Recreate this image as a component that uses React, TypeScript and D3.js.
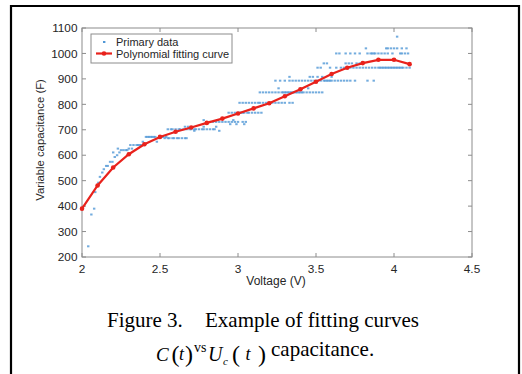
import React from "react";
import * as d3 from "d3";

const xTicks = [2, 2.5, 3, 3.5, 4, 4.5];
const yTicks = [200, 300, 400, 500, 600, 700, 800, 900, 1000, 1100];

// Polynomial fitting curve
const fitV = [2.0, 2.1, 2.2, 2.3, 2.4, 2.5, 2.6, 2.7, 2.8, 2.9, 3.0, 3.1, 3.2, 3.3, 3.4, 3.5, 3.6, 3.7, 3.8, 3.9, 4.0, 4.1];
const fitC = [390, 481, 552, 604, 643, 672, 692, 709, 727, 744, 764, 784, 804, 832, 859, 889, 919, 944, 962, 975, 975, 958];

// Primary data, grouped by (quantized) capacitance level
const dataLevels = [
  242, 367, 390, 455, 492, 515, 532, 545, 558, 574, 593, 600, 611, 620, 626, 640, 653,
  667, 672, 702, 712, 696, 731, 722, 738, 767, 806, 847, 863, 893, 908, 944, 961, 1000, 1020, 1066,
];
const dataVolts = [
  [2.04],
  [2.06],
  [2.078],
  [2.085],
  [2.105],
  [2.115],
  [2.13],
  [2.14],
  [2.155, 2.165],
  [2.18, 2.195],
  [2.21],
  [2.225],
  [2.2, 2.24],
  [2.25, 2.265, 2.28, 2.29],
  [2.23, 2.3, 2.32],
  [2.31, 2.33, 2.35, 2.36, 2.37, 2.38, 2.4],
  [2.39, 2.48],
  [2.49, 2.53, 2.55, 2.56, 2.58, 2.59, 2.61, 2.62, 2.64, 2.66, 2.67],
  [2.41, 2.42, 2.43, 2.44, 2.45, 2.46, 2.47, 2.5, 2.51, 2.52, 2.54],
  [2.55, 2.57, 2.58, 2.6, 2.62, 2.63, 2.65, 2.67, 2.69, 2.7, 2.72, 2.73, 2.75, 2.77, 2.78, 2.8, 2.82, 2.84, 2.85],
  [2.66, 2.68, 2.78, 2.86],
  [2.72, 2.88],
  [2.82, 2.84, 2.86, 2.88, 2.9, 2.92, 2.94, 2.96, 2.98, 3.0, 3.03, 3.05],
  [2.95, 2.99, 3.04],
  [2.78, 2.87, 2.97],
  [2.94, 2.96, 2.98, 3.0, 3.01, 3.02, 3.03, 3.04, 3.06, 3.07, 3.09, 3.11, 3.13, 3.15],
  [3.01, 3.03, 3.05, 3.07, 3.09, 3.11, 3.13, 3.14, 3.16, 3.18, 3.2, 3.22, 3.24, 3.26, 3.28, 3.3, 3.33, 3.35],
  [3.14, 3.16, 3.18, 3.2, 3.22, 3.24, 3.26, 3.28, 3.29, 3.3, 3.31, 3.32, 3.33, 3.34, 3.35, 3.36, 3.37, 3.38, 3.39, 3.4, 3.41, 3.42, 3.44, 3.46, 3.48, 3.5, 3.52, 3.54],
  [3.26, 3.45],
  [3.24, 3.27, 3.3, 3.33, 3.35, 3.37, 3.39, 3.41, 3.43, 3.45, 3.47, 3.49, 3.51, 3.53, 3.55, 3.56, 3.57, 3.58, 3.59, 3.6, 3.62, 3.64, 3.66, 3.68, 3.7, 3.72, 3.75, 3.83, 3.87],
  [3.33, 3.46, 3.48, 3.51, 3.54, 3.6],
  [3.51, 3.53, 3.59, 3.63, 3.66, 3.68, 3.7, 3.72, 3.74, 3.76, 3.78, 3.8, 3.82, 3.84, 3.86, 3.88, 3.9, 3.91, 3.92, 3.93, 3.94, 3.95, 3.96, 3.97, 3.98, 3.99, 4.0, 4.01, 4.02, 4.03, 4.04, 4.05, 4.06, 4.08, 4.1],
  [3.55, 3.57, 3.69, 3.71, 3.73, 3.76, 3.78, 3.8],
  [3.63, 3.65, 3.69, 3.72, 3.75, 3.78, 3.83, 3.85, 3.86, 3.87, 3.88, 3.9, 3.92, 3.94, 3.96, 3.99, 4.04, 4.05, 4.07, 4.09],
  [3.82, 3.95, 3.96, 3.98, 4.0, 4.02, 4.05, 4.08],
  [4.02],
];

const legendLabels = ["Primary data", "Polynomial fitting curve"];

export default function App() {
  const left = 82, right = 472, top = 28, bottom = 257;
  const x = d3.scaleLinear().domain([2, 4.5]).range([left, right]);
  const y = d3.scaleLinear().domain([200, 1100]).range([bottom, top]);
  const line = d3.line<number>().x((_, i) => x(fitV[i])).y((c) => y(c));

  const pts: { v: number; c: number }[] = [];
  dataLevels.forEach((c, i) => dataVolts[i].forEach((v) => pts.push({ v, c })));

  const axisColor = "#8c8c8c";
  const textColor = "#262626";
  const font = "'Liberation Sans', Arial, sans-serif";
  const serif = "'Liberation Serif', 'Times New Roman', serif";
  const blue = "#5097d6";
  const red = "#e8221c";
  const tl = 4;

  return (
    <svg width={522} height={374} style={{ position: "absolute", left: 0, top: 0, background: "#fff" }}>
      {/* outer frame */}
      <path d="M11,380 V6 H519 V380" fill="none" stroke="#000" strokeWidth={2.2} />

      {/* axes box */}
      <rect x={left} y={top} width={right - left} height={bottom - top} fill="#fff" stroke={axisColor} strokeWidth={1} />
      {xTicks.map((t) => (
        <g key={"x" + t}>
          <line x1={x(t)} x2={x(t)} y1={bottom} y2={bottom - tl} stroke={axisColor} />
          <line x1={x(t)} x2={x(t)} y1={top} y2={top + tl} stroke={axisColor} />
          <text x={x(t)} y={272.5} textAnchor="middle" fontFamily={font} fontSize={11.8} fill={textColor}>
            {t}
          </text>
        </g>
      ))}
      {yTicks.map((t) => (
        <g key={"y" + t}>
          <line x1={left} x2={left + tl} y1={y(t)} y2={y(t)} stroke={axisColor} />
          <line x1={right} x2={right - tl} y1={y(t)} y2={y(t)} stroke={axisColor} />
          <text x={77.5} y={y(t) + 4.2} textAnchor="end" fontFamily={font} fontSize={11.8} fill={textColor}>
            {t}
          </text>
        </g>
      ))}
      <text x={276} y={285} textAnchor="middle" fontFamily={font} fontSize={12} fill={textColor}>
        Voltage (V)
      </text>
      <text
        transform={`translate(44,140) rotate(-90)`}
        textAnchor="middle"
        fontFamily={font}
        fontSize={11.3}
        fill={textColor}
      >
        Variable capacitance (F)
      </text>

      {/* scatter */}
      {pts.map((p, i) => (
        <rect key={i} x={x(p.v) - 1.2} y={y(p.c) - 1} width={2.4} height={2} fill={blue} opacity={0.8} />
      ))}

      {/* fit curve */}
      <path d={line(fitC) || ""} fill="none" stroke={red} strokeWidth={2.2} />
      {fitC.map((c, i) => (
        <circle key={i} cx={x(fitV[i])} cy={y(c)} r={2.3} fill={red} />
      ))}

      {/* legend */}
      <rect x={91} y={34} width={141} height={29} fill="#fff" stroke={axisColor} strokeWidth={1} />
      <rect x={103} y={41} width={2.4} height={2} fill={blue} />
      <line x1={96} x2={112} y1={53.5} y2={53.5} stroke={red} strokeWidth={2.2} />
      <circle cx={104} cy={53.5} r={2.3} fill={red} />
      <text x={116} y={45.5} fontFamily={font} fontSize={11} fill={textColor}>
        {legendLabels[0]}
      </text>
      <text x={116} y={57.5} fontFamily={font} fontSize={11} fill={textColor}>
        {legendLabels[1]}
      </text>

      {/* caption */}
      <g fontFamily={serif} fill="#000">
        <text x={107} y={327} fontSize={21}>Figure 3.</text>
        <text x={205} y={327} fontSize={21}>Example of fitting curves</text>
        <text x={156} y={361} fontSize={19} fontStyle="italic">C</text>
        <text x={171.5} y={362} fontSize={24}>(</text>
        <text x={179} y={360} fontSize={18} fontStyle="italic">t</text>
        <text x={185} y={362} fontSize={24}>)</text>
        <text x={194} y={352} fontSize={14}>vs</text>
        <text x={208} y={361} fontSize={20} fontStyle="italic">U</text>
        <text x={223} y={365} fontSize={11} fontStyle="italic">c</text>
        <text x={232} y={362} fontSize={24}>(</text>
        <text x={245.5} y={360} fontSize={18} fontStyle="italic">t</text>
        <text x={258} y={362} fontSize={24}>)</text>
        <text x={271} y={356} fontSize={21}>capacitance.</text>
      </g>
    </svg>
  );
}
